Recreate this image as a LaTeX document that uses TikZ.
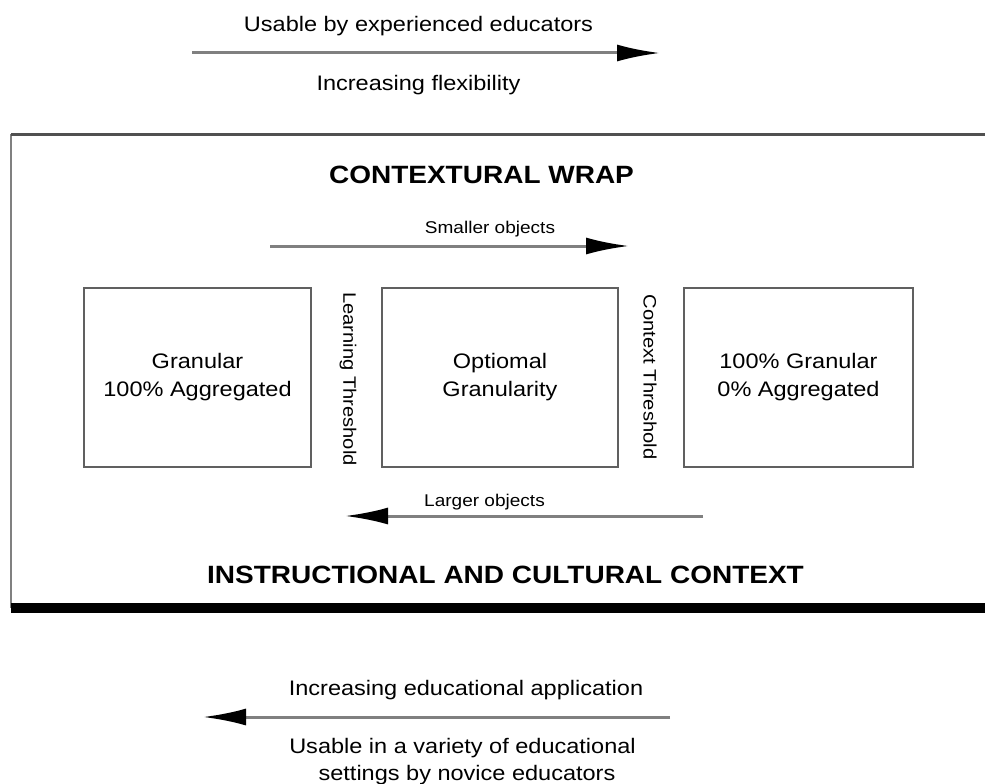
\documentclass[tikz,border=0pt]{standalone}
\usepackage{fontspec}
\setmainfont[FakeStretch=1.12]{Liberation Sans}
\usetikzlibrary{arrows.meta}
\definecolor{linegray}{HTML}{808080}
\definecolor{boxgray}{HTML}{606060}
\definecolor{topgray}{HTML}{505050}
\begin{document}
\begin{tikzpicture}[x=1pt,y=-1pt,
  lbl/.style={inner sep=0pt, anchor=base, font=\fontsize{21}{27}\selectfont},
  smalllbl/.style={inner sep=0pt, anchor=base, font=\fontsize{17}{20}\selectfont},
  headlbl/.style={inner sep=0pt, anchor=base, font=\bfseries\fontsize{25}{30}\selectfont},
  vlbl/.style={inner sep=0pt, rotate=-90, font=\fontsize{18}{20}\selectfont},
  boxnode/.style={draw=boxgray, line width=2pt, minimum height=179pt, inner sep=0pt,
    align=center, font=\fontsize{21}{28}\selectfont},
  flow/.style={draw=linegray, line width=3pt, -{Latex[length=43pt,width=17pt,color=black]}}
]
\useasboundingbox (0,0) rectangle (985,784);

% top arrow
\node[lbl] (usexp) at (418.5,32) {Usable by experienced educators};
\node[lbl] (incflex) at (418.5,90) {Increasing flexibility};
\coordinate (ta) at (192,53);
\coordinate (tb) at (660,53);
\draw[flow] (ta) -- (tb);

% contextual wrap frame
\coordinate (fl) at (11,134);
\coordinate (fr) at (986,134);
\coordinate (bl) at (11,608);
\coordinate (br) at (986,608);
\draw[draw=linegray, line width=2pt] (fl) -- (bl);
\draw[draw=topgray, line width=3pt] (fl) -- (fr);
\draw[draw=black, line width=10pt] (bl) -- (br);

\node[headlbl] (wrap) at (481.5,183) {CONTEXTURAL WRAP};
\node[headlbl] (instr) at (505.5,583) {INSTRUCTIONAL AND CULTURAL CONTEXT};

% smaller objects arrow
\node[smalllbl] (smaller) at (490,233) {Smaller objects};
\coordinate (sa) at (270,246);
\coordinate (sb) at (629,246);
\draw[flow] (sa) -- (sb);

% boxes
\node[boxnode, minimum width=227pt] (gran) at (197.5,377.5) {Granular\\100\% Aggregated};
\node[boxnode, minimum width=236pt] (opt) at (500,377.5) {Optiomal\\Granularity};
\node[boxnode, minimum width=229pt] (full) at (798.5,377.5) {100\% Granular\\0\% Aggregated};

\node[vlbl] (learn) at (348,379) {Learning Threshold};
\node[vlbl] (ctx) at (650,377) {Context Threshold};

% larger objects arrow
\node[smalllbl] (larger) at (484.5,506) {Larger objects};
\coordinate (la) at (703,516);
\coordinate (lb) at (345,516);
\draw[flow] (la) -- (lb);

% bottom arrow
\node[lbl] (incedu) at (466,695) {Increasing educational application};
\coordinate (ba) at (670,717);
\coordinate (bb) at (203,717);
\draw[flow] (ba) -- (bb);
\node[lbl] (usvar1) at (462.5,753) {Usable in a variety of educational};
\node[lbl] (usvar2) at (467,780) {settings by novice educators};
\end{tikzpicture}
\end{document}
